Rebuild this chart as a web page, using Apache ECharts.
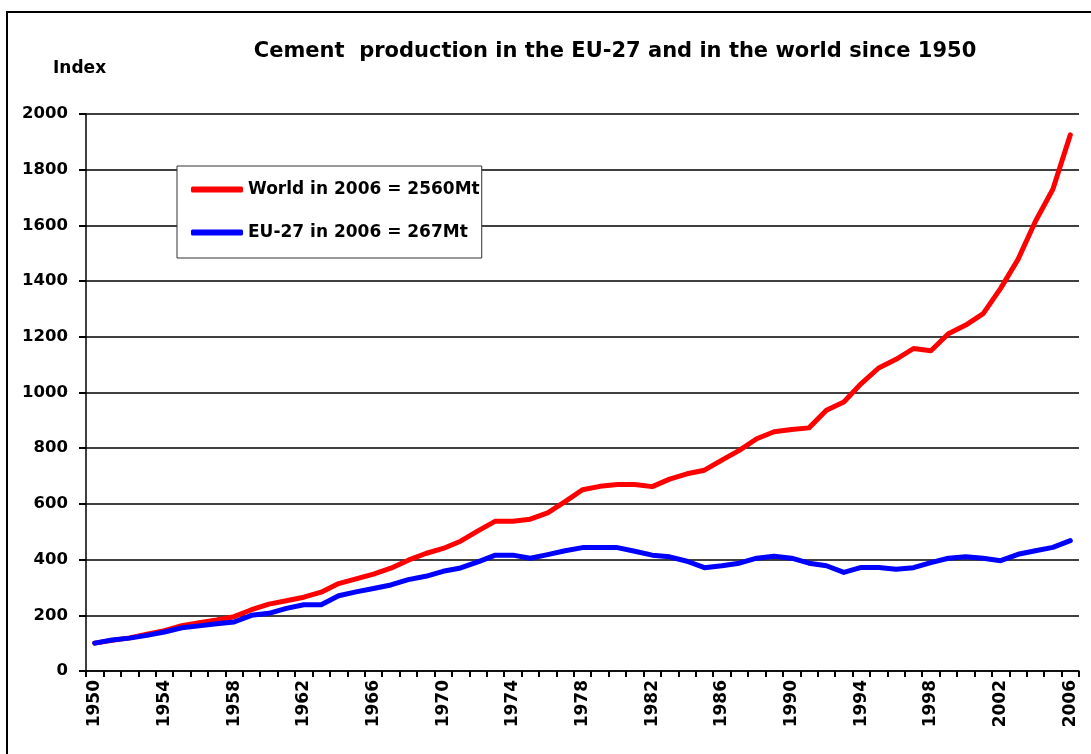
<!DOCTYPE html>
<html>
<head>
<meta charset="utf-8">
<script src="https://cdn.jsdelivr.net/npm/echarts@6/dist/echarts.min.js"></script>
<style>html,body{margin:0;padding:0;background:#fff}#c{width:1091px;height:754px}</style>
</head>
<body>
<div id="c"></div>
<script>
const years = [];
for (let y = 1950; y <= 2006; y++) years.push(String(y));
const world = [100,110,119,132,145,163,173,183,195,220,240,252,265,283,314,331,348,369,398,422,440,466,503,538,538,545,568,608,651,663,670,670,662,689,708,721,757,792,834,859,867,873,936,966,1032,1088,1119,1158,1150,1211,1242,1283,1374,1478,1615,1730,1925];
const eu27 = [100,111,118,128,140,155,162,170,176,200,207,225,238,238,270,284,296,309,328,340,358,370,392,416,416,405,418,432,443,443,443,430,416,410,394,371,378,387,405,412,405,387,378,354,372,372,365,371,389,405,410,405,396,419,432,444,468];
const yTicks = [0,200,400,600,800,1000,1200,1400,1600,1800,2000];
const titleText = 'Cement  production in the EU-27 and in the world since 1950';
const yName = 'Index';
const seriesNames = ['World in 2006 = 2560Mt', 'EU-27 in 2006 = 267Mt'];

const FONT = 'DejaVu Sans';
const chart = echarts.init(document.getElementById('c'));
chart.setOption({
  animation: false,
  backgroundColor: '#fff',
  title: {
    text: titleText, left: 610, top: 36, textAlign: 'center',
    textStyle: { fontFamily: FONT, fontWeight: 'bold', fontSize: 21, color: '#000' }
  },
  graphic: [
    { type: 'rect', z: -10, shape: { x: 7, y: 12, width: 1100, height: 800 },
      style: { fill: 'none', stroke: '#000', lineWidth: 2 } },
    { type: 'text', left: 53, top: 60,
      style: { text: yName, fontFamily: FONT, fontWeight: 'bold', fontSize: 17, fill: '#000' } }
  ],
  legend: {
    orient: 'vertical', left: 177, top: 166,
    data: seriesNames,
    icon: 'roundRect', itemWidth: 52, itemHeight: 6, itemGap: 26,
    padding: [15, 2, 17, 14],
    borderColor: '#333', borderWidth: 1, backgroundColor: '#fff',
    textStyle: { fontFamily: FONT, fontWeight: 'bold', fontSize: 17, color: '#000' }
  },
  grid: { left: 86, right: 12, top: 114, bottom: 83 },
  xAxis: {
    type: 'category', data: years, boundaryGap: true,
    axisLine: { lineStyle: { color: '#000', width: 1.5 } },
    axisTick: { show: true, interval: 0, length: 6, lineStyle: { color: '#000', width: 2 } },
    axisLabel: { interval: 3, rotate: 90, margin: 9, fontFamily: FONT, fontWeight: 'bold', fontSize: 17, color: '#000' },
    splitLine: { show: false }
  },
  yAxis: {
    type: 'value', min: yTicks[0], max: yTicks[yTicks.length-1], interval: 200,
    axisLine: { show: true, lineStyle: { color: '#000', width: 1.5 } },
    axisTick: { show: true, length: 7, lineStyle: { color: '#000', width: 2 } },
    axisLabel: { margin: 18, fontFamily: FONT, fontWeight: 'bold', fontSize: 16.5, color: '#000',
      formatter: v => String(v) },
    splitLine: { lineStyle: { color: '#000', width: 1.5 } }
  },
  series: [
    { name: seriesNames[0], type: 'line', data: world, symbol: 'none', z: 3,
      lineStyle: { color: '#FF0000', width: 5, cap: 'round', join: 'round' }, itemStyle: { color: '#FF0000' } },
    { name: seriesNames[1], type: 'line', data: eu27, symbol: 'none', z: 4,
      lineStyle: { color: '#0000FF', width: 5, cap: 'round', join: 'round' }, itemStyle: { color: '#0000FF' } }
  ]
});
</script>
</body>
</html>
